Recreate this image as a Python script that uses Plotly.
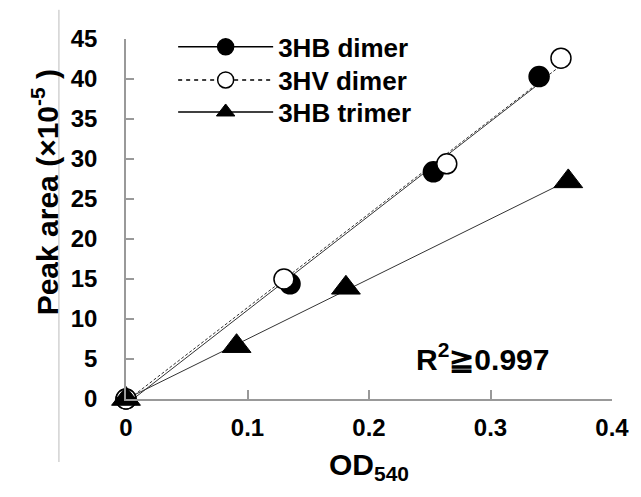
import numpy as np
import plotly.graph_objects as go

# Data
hb_dimer_x = [0, 0.135, 0.253, 0.340]
hb_dimer_y = [0, 14.4, 28.4, 40.3]
hv_dimer_x = [0, 0.130, 0.264, 0.358]
hv_dimer_y = [0, 15.0, 29.4, 42.6]
hb_trimer_x = [0, 0.091, 0.181, 0.364]
hb_trimer_y = [0, 6.6, 13.9, 27.2]

names = ["3HB dimer", "3HV dimer", "3HB trimer"]
x_ticks = [0, 0.1, 0.2, 0.3, 0.4]
x_tick_labels = ["0", "0.1", "0.2", "0.3", "0.4"]
y_ticks = [0, 5, 10, 15, 20, 25, 30, 35, 40, 45]

FONT = "Arial, Liberation Sans, Helvetica, sans-serif"

fig = go.Figure()

series = [
    (hb_dimer_x, hb_dimer_y, names[0], "solid", "solid",
     dict(symbol="circle", size=20, color="black", line=dict(color="black", width=1.5))),
    (hv_dimer_x, hv_dimer_y, names[1], "3px,2px", "4px,4px",
     dict(symbol="circle", size=20, color="white", line=dict(color="black", width=1.5))),
    (hb_trimer_x, hb_trimer_y, names[2], "solid", "solid",
     dict(symbol="triangle-up", size=25, color="black", line=dict(color="black", width=1))),
]

# fitted trend lines
for xs, ys, name, dash, ldash, mk in series:
    slope, intercept = np.polyfit(xs, ys, 1)
    fx = np.array([0, max(xs)])
    fig.add_trace(go.Scatter(x=fx, y=slope * fx + intercept, mode="lines",
                             line=dict(color="#333333", width=1, dash=dash),
                             showlegend=False, hoverinfo="skip", cliponaxis=False))

# data markers
for xs, ys, name, dash, ldash, mk in series:
    fig.add_trace(go.Scatter(x=xs, y=ys, mode="markers", marker=mk,
                             showlegend=False, cliponaxis=False, name=name))

# legend entries, one legend per row
legend_ids = ["legend", "legend2", "legend3"]
legend_rows = [0.978, 0.886, 0.797]
for (xs, ys, name, dash, ldash, mk), lid in zip(series, legend_ids):
    fig.add_trace(go.Scatter(x=[None], y=[None], mode="lines+markers", name=name,
                             marker=mk, line=dict(color="black", width=1.5, dash=ldash),
                             legend=lid))

fig.add_annotation(x=0.293, y=5.3, xref="x", yref="y",
                   text="R<sup>2</sup>≧0.997", showarrow=False,
                   font=dict(family=FONT, size=30, color="black", weight="bold"))

# y-axis title as annotation (positioned like the reference)
fig.add_annotation(x=-0.166, y=0.575, xref="paper", yref="paper",
                   xanchor="center", yanchor="middle",
                   text="Peak area (×10<sup>-5</sup> )", showarrow=False, textangle=-90,
                   font=dict(family=FONT, size=30, color="black", weight="bold"))

fig.add_shape(type="line", xref="paper", yref="paper",
              x0=-0.138, x1=-0.138, y0=-0.175, y1=1.081,
              line=dict(color="#bbbbbb", width=1))

legend_style = dict(x=0.097, xanchor="left", yanchor="middle",
                    itemwidth=95, bgcolor="rgba(0,0,0,0)",
                    font=dict(family=FONT, size=26, color="black", weight="bold"))

fig.update_layout(
    width=633, height=489,
    margin=dict(l=118, r=22, t=31, b=98),
    paper_bgcolor="white", plot_bgcolor="white",
    font=dict(family=FONT, color="black"),
    legend=dict(y=legend_rows[0], **legend_style),
    legend2=dict(y=legend_rows[1], **legend_style),
    legend3=dict(y=legend_rows[2], **legend_style),
    xaxis=dict(range=[0, 0.4], tickvals=x_ticks, ticktext=x_tick_labels,
               showgrid=False, zeroline=False, showline=True,
               linecolor="#999999", linewidth=1.5,
               ticks="inside", ticklen=9, tickcolor="#999999", tickwidth=1.5,
               ticklabelstandoff=6,
               tickfont=dict(family=FONT, size=24, color="black", weight="bold"),
               title=dict(text="OD<sub>540</sub>", standoff=14,
                          font=dict(family=FONT, size=30, color="black", weight="bold"))),
    yaxis=dict(range=[0, 45], tickvals=y_ticks,
               showgrid=False, zeroline=False, showline=True,
               linecolor="#999999", linewidth=1.5,
               ticks="inside", ticklen=8, tickcolor="#999999", tickwidth=1.5,
               ticklabelstandoff=22,
               tickfont=dict(family=FONT, size=24, color="black", weight="bold")),
)

fig.write_html("out.html")
